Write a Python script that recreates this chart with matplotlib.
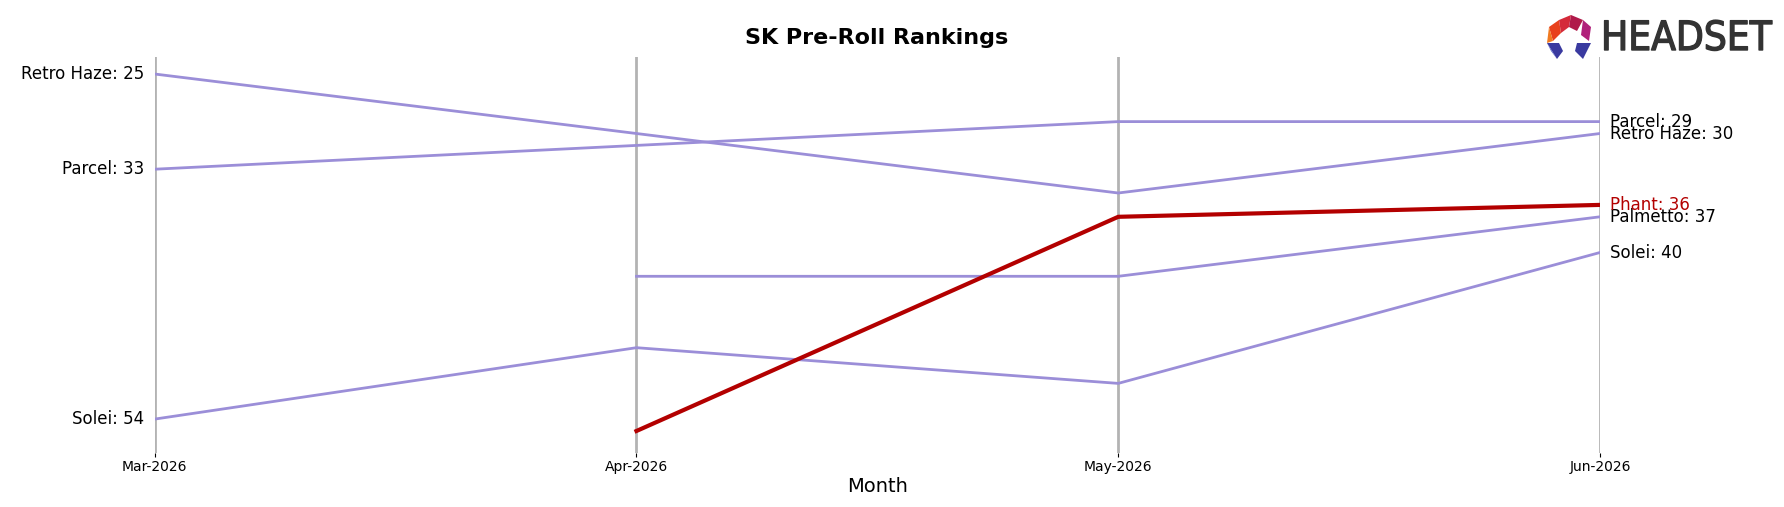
import matplotlib
matplotlib.use("Agg")
import matplotlib.pyplot as plt
from matplotlib.patches import Polygon
import matplotlib.patheffects as pe
import numpy as np

months = ["Mar-2026", "Apr-2026", "May-2026", "Jun-2026"]
brands = ["Retro Haze", "Parcel", "Palmetto", "Solei", "Phant"]
retro_haze = [25, 30, 35, 30]
parcel = [33, 31, 29, 29]
palmetto = [None, 42, 42, 37]
solei = [54, 48, 51, 40]
phant = [None, 55, 37, 36]
series = [retro_haze, parcel, palmetto, solei, phant]
highlight = "Phant"

W, H = 1784, 507
fig = plt.figure(figsize=(W / 100, H / 100), dpi=100)
ax = fig.add_axes([154.7 / W, 1 - 453 / H, (1600 - 154.7) / W, (453 - 57) / H])

x = np.arange(len(months))
for xi in x:
    ax.axvline(xi, color="#b3b3b3", lw=2, zorder=0)

for name, vals in zip(brands, series):
    xs = [xi for xi, v in zip(x, vals) if v is not None]
    ys = [v for v in vals if v is not None]
    if name == highlight:
        ax.plot(xs, ys, color="#b30000", lw=3, zorder=3)
    else:
        ax.plot(xs, ys, color="#9b8ed8", lw=2, zorder=2)
    first = vals[0]
    if first is not None:
        ax.text(-0.022, first, f"{name}: {first}", ha="right", va="center", fontsize=12,
                color="#b30000" if name == highlight else "black")
    last = vals[-1]
    if last is not None:
        ax.text(3.02, last, f"{name}: {last}", ha="left", va="center", fontsize=12,
                color="#b30000" if name == highlight else "black")

ax.set_xlim(0, 3)
ax.set_ylim(56.85, 23.57)
ax.set_xticks(x)
ax.set_xticklabels(months, fontsize=10)
ax.set_yticks([])
for s in ax.spines.values():
    s.set_visible(False)
ax.tick_params(axis="x", length=3, pad=2, color="black")
ax.set_xlabel("Month", fontsize=14, labelpad=2)
fig.text(0.4915, 1 - 37.5 / H, "SK Pre-Roll Rankings", ha="center", va="center",
         fontsize=16, fontweight="bold")

# logo
lax = fig.add_axes([1547 / W, 1 - 61 / H, 230 / W, 46 / H])
lax.set_xlim(0, 230)
lax.set_ylim(46, 0)
lax.axis("off")
polys = [
    ([(2, 12), (12, 5), (14, 18), (6, 26)], "#e8401c"),
    ([(12, 5), (24, 0), (22, 12), (14, 18)], "#d42a3a"),
    ([(24, 0), (36, 5), (30, 16), (22, 12)], "#b01a4a"),
    ([(36, 5), (44, 12), (42, 26), (34, 20)], "#b0207a"),
    ([(2, 12), (6, 26), (0, 28)], "#f07a20"),
    ([(0, 28), (12, 28), (16, 36), (10, 44)], "#3a3aa0"),
    ([(0, 28), (10, 44), (4, 36)], "#5560c8"),
    ([(30, 28), (44, 28), (36, 44), (28, 36)], "#3a3aa0"),
    ([(44, 28), (40, 36), (36, 44)], "#5560c8"),
]
for pts, c in polys:
    lax.add_patch(Polygon(pts, closed=True, color=c, lw=0))
lax.text(54, 24, "HEADSET", fontsize=29, color="#333333", va="center", ha="left",
         fontstretch="condensed",
         path_effects=[pe.withStroke(linewidth=1.0, foreground="#333333")])

fig.savefig("out.png", dpi=100)
